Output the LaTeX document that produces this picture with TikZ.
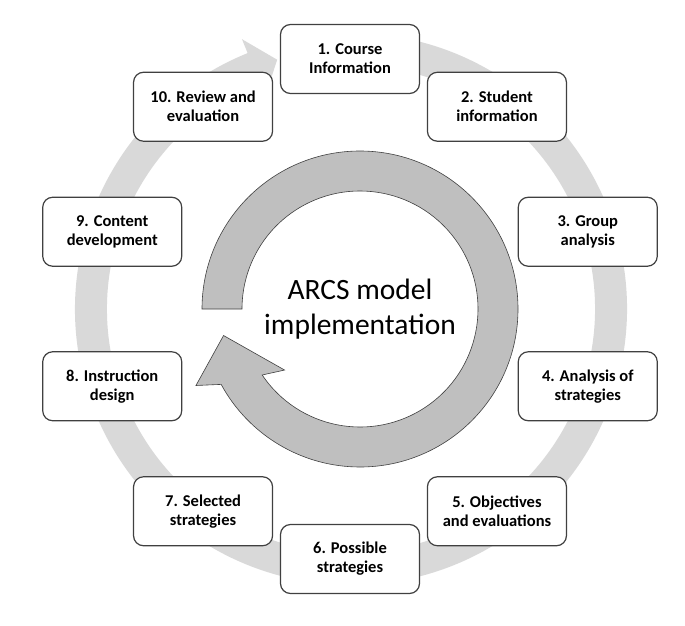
\documentclass[tikz,border=0pt]{standalone}
\usepackage{fontspec}
\setmainfont{Carlito}
\usepackage{tikz}
\usetikzlibrary{positioning}
\definecolor{ringgray}{RGB}{217,217,217}
\definecolor{arrowgray}{RGB}{191,191,191}
\definecolor{edgegray}{RGB}{64,64,64}
\tikzstyle{stage} = [rectangle, rounded corners=10pt, minimum width=139pt, minimum height=69pt, text centered, align=center, draw=edgegray, line width=1.2pt, fill=white, font=\bfseries\fontsize{16.5}{19}\selectfont]
\tikzstyle{title} = [align=center, font=\fontsize{29.5}{35}\selectfont]

\begin{document}
\begin{tikzpicture}[x=1pt, y=1pt]
			\useasboundingbox (0,0) rectangle (685,-626);
			
			%outer cycle
			\begin{scope}[shift={(351,-309)}]
			\fill[ringgray] (80:276) arc[start angle=80, end angle=-248, radius=276] -- (-248:291) -- (-253.5:260) -- (-248:229) -- (-248:244) arc[start angle=-248, end angle=80, radius=244] -- cycle;
			\end{scope}
			
			%inner arrow
			\begin{scope}[shift={(360,-309)}]
			\filldraw[fill=arrowgray, draw=edgegray, line width=0.6pt] (180:158) arc[start angle=180, end angle=-151.5, radius=158] -- (-155:181) -- (-169:139) -- (-141:97) -- (-146:118) arc[start angle=-146, end angle=180, radius=118] -- cycle;
			\end{scope}
			\node[title] (arcs) at (360,-309.5) {ARCS model\\implementation};
			
			%steps
			\begin{scope}[shift={(350,-309)}]
			\node[stage] (step1) at (90:250) {1. Course\\Information};
			\node[stage] (step2) at (54:250) {2. Student\\information};
			\node[stage] (step3) at (18:250) {3. Group\\analysis};
			\node[stage] (step4) at (-18:250) {4. Analysis of\\strategies};
			\node[stage] (step5) at (-54:250) {5. Objectives\\and evaluations};
			\node[stage] (step6) at (-90:250) {6. Possible\\strategies};
			\node[stage] (step7) at (-126:250) {7. Selected\\strategies};
			\node[stage] (step8) at (-162:250) {8. Instruction\\design};
			\node[stage] (step9) at (162:250) {9. Content\\development};
			\node[stage] (step10) at (126:250) {10. Review and\\evaluation};
			\end{scope}
			
		\end{tikzpicture}
\end{document}
